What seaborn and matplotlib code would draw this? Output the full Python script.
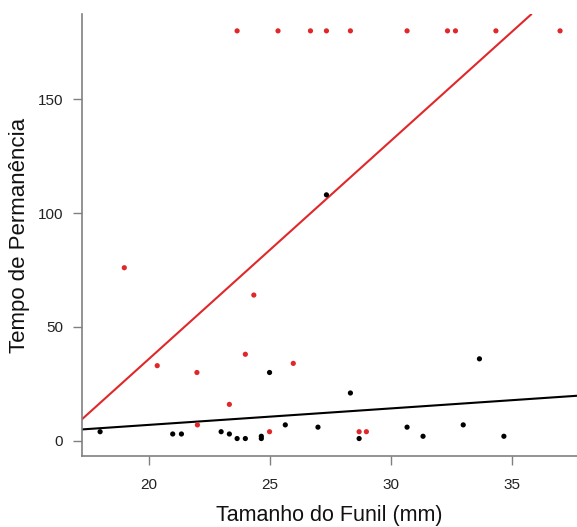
import matplotlib
matplotlib.use('Agg')
import matplotlib.pyplot as plt
import pandas as pd
import seaborn as sns

# funnel size (mm) and residence time, red = group 2, black = group 1
red_x = [23.66, 25.35, 26.69, 27.35, 28.34, 30.68, 32.35, 32.68, 34.35, 37.0,
         19.0, 20.36, 22.0, 22.02, 23.34, 24.0, 24.35, 25.0, 25.98, 28.7, 29.0]
red_y = [180, 180, 180, 180, 180, 180, 180, 180, 180, 180,
         76, 33, 30, 7, 16, 38, 64, 4, 34, 4, 4]
black_x = [18.0, 21.0, 21.36, 23.0, 23.34, 23.66, 24.0, 24.66, 24.66, 25.0,
           25.65, 27.0, 27.35, 28.34, 28.7, 30.68, 31.34, 33.0, 33.67, 34.68]
black_y = [4, 3, 3, 4, 3, 1, 1, 2, 1, 30,
           7, 6, 108, 21, 1, 6, 2, 7, 36, 2]

# fitted lines (intercept, slope)
fit_grupos = ['red', 'black']
fit_intercept = [-155.8, -7.47]
fit_slope = [9.58, 0.723]

df = pd.DataFrame({
    'x': red_x + black_x,
    'y': red_y + black_y,
    'grupo': ['red'] * len(red_x) + ['black'] * len(black_x),
})

sns.set_style('white')
plt.rcParams['font.family'] = ['Liberation Sans', 'DejaVu Sans']

cores = {'red': '#e0282a', 'black': '#000000'}

fig = plt.figure(figsize=(5.77, 5.27), dpi=100)
ax = fig.add_axes([0.142, 0.135, 0.858, 0.838])

sns.scatterplot(data=df, x='x', y='y', hue='grupo', palette=cores,
                s=14, linewidth=0, legend=False, ax=ax, zorder=3)
for g, b, m in zip(fit_grupos, fit_intercept, fit_slope):
    ax.axline((0, b), slope=m, color=cores[g], linewidth=1.5)

ax.set_xlim(17.25, 37.7)
ax.set_ylim(-6.6, 187.3)
ax.set_xticks([20, 25, 30, 35])
ax.set_yticks([0, 50, 100, 150])

for s in ['top', 'right']:
    ax.spines[s].set_visible(False)
for s in ['left', 'bottom']:
    ax.spines[s].set_color('#808080')
    ax.spines[s].set_linewidth(1.2)

ax.tick_params(axis='both', direction='out', length=6.5, width=1.0,
               bottom=True, left=True,
               color='#808080', labelsize=11, labelcolor='#222222')
ax.tick_params(axis='y', pad=7)
ax.tick_params(axis='x', pad=9.5)

ax.set_xlabel('Tamanho do Funil (mm)', fontsize=15.5, labelpad=9, color='#111111')
ax.set_ylabel('Tempo de Permanência', fontsize=16, labelpad=5.5, color='#111111')

plt.savefig('out.png', dpi=100)
plt.close()
